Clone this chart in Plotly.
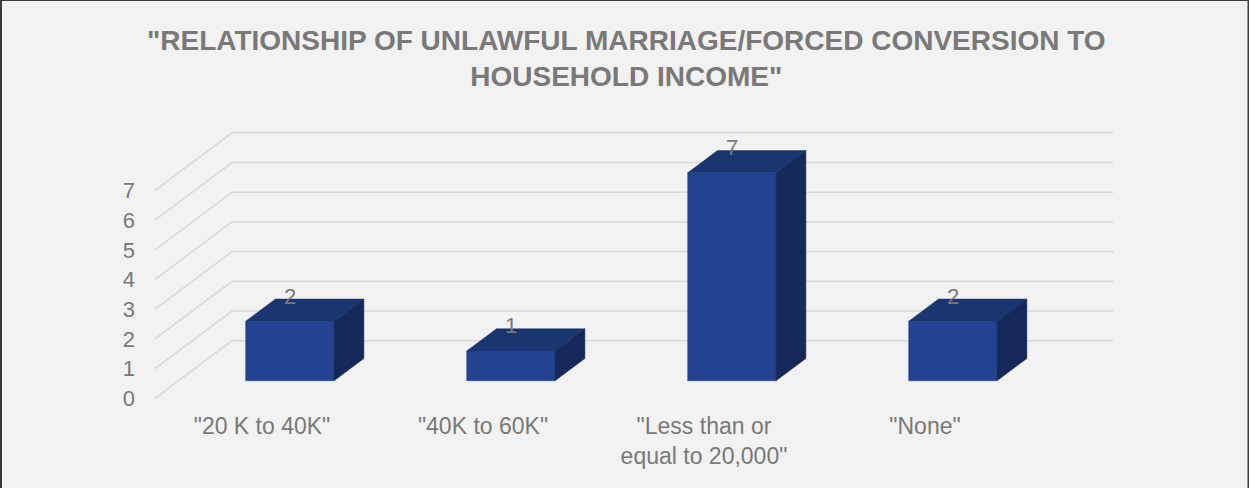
import plotly.graph_objects as go

# Chart data
categories = ['"20 K to 40K"', '"40K to 60K"', '"Less than or<br>equal to 20,000"', '"None"']
values = [2, 1, 7, 2]
y_ticks = [0, 1, 2, 3, 4, 5, 6, 7]
title_text = '"RELATIONSHIP OF UNLAWFUL MARRIAGE/FORCED CONVERSION TO<br>HOUSEHOLD INCOME"'

# Oblique projection used for the pseudo-3D look:
# a point (category c, value v, depth d in [0, 1]) is drawn at
# X = c + d * DEPTH_X, Y = v + d * DEPTH_Y
DEPTH_X = 0.3484
DEPTH_Y = 1.939
BAR_FRONT = 0.305
BAR_BACK = 0.692
HALF_W = 0.2
FLOOR_LEFT = -0.504
FLOOR_RIGHT = 3.483

FRONT_COLOR = "#234391"
TOP_COLOR = "#1b3570"
SIDE_COLOR = "#14295a"
GRID_COLOR = "#d9d9d9"
TEXT_COLOR = "#7a7878"
FONT = "Liberation Sans, Arial, sans-serif"


def proj(c, v, d):
    return c + d * DEPTH_X, v + d * DEPTH_Y


def polygon(points, color):
    return go.Scatter(
        x=[p[0] for p in points] + [points[0][0]],
        y=[p[1] for p in points] + [points[0][1]],
        mode="lines", fill="toself", fillcolor=color,
        line=dict(color=color, width=0.5), hoverinfo="skip", showlegend=False)


fig = go.Figure()

# Walls: one bent gridline per value level (left side wall + back wall)
for k in y_ticks:
    pts = [proj(FLOOR_LEFT, k, 0), proj(FLOOR_LEFT, k, 1), proj(FLOOR_RIGHT, k, 1)]
    fig.add_trace(go.Scatter(
        x=[p[0] for p in pts], y=[p[1] for p in pts], mode="lines",
        line=dict(color=GRID_COLOR, width=1.6), hoverinfo="skip", showlegend=False))

xs = list(range(len(categories)))

# Bars as boxes: front, top and right-hand side faces
for c, v in zip(xs, values):
    front = [proj(c - HALF_W, 0, BAR_FRONT), proj(c + HALF_W, 0, BAR_FRONT),
             proj(c + HALF_W, v, BAR_FRONT), proj(c - HALF_W, v, BAR_FRONT)]
    top = [proj(c - HALF_W, v, BAR_FRONT), proj(c + HALF_W, v, BAR_FRONT),
           proj(c + HALF_W, v, BAR_BACK), proj(c - HALF_W, v, BAR_BACK)]
    side = [proj(c + HALF_W, 0, BAR_FRONT), proj(c + HALF_W, v, BAR_FRONT),
            proj(c + HALF_W, v, BAR_BACK), proj(c + HALF_W, 0, BAR_BACK)]
    fig.add_trace(polygon(front, FRONT_COLOR))
    fig.add_trace(polygon(top, TOP_COLOR))
    fig.add_trace(polygon(side, SIDE_COLOR))

# Value labels on top of the bars
for c, v in zip(xs, values):
    px, py = proj(c, v, BAR_BACK)
    fig.add_annotation(x=c + BAR_FRONT * DEPTH_X, y=py, text=str(v), showarrow=False,
                       yshift=3, font=dict(family=FONT, size=22, color=TEXT_COLOR))

# Pixel-aligned axis ranges (figure is 1249 x 488)
X_ORIGIN_PX, X_STEP_PX = 266.4, 221.0
Y_ORIGIN_PX, Y_STEP_PX = 398.3, 29.7
W, H = 1249, 488

fig.add_annotation(text=title_text, xref="paper", yref="paper", x=0.5015, y=1 - 58.5 / H,
                   xanchor="center", yanchor="middle", showarrow=False,
                   font=dict(family=FONT, size=28, color=TEXT_COLOR, weight="bold"))

fig.update_layout(
    width=W, height=H,
    margin=dict(l=0, r=0, t=0, b=0),
    paper_bgcolor="#f2f2f2", plot_bgcolor="#f2f2f2",
    font=dict(family=FONT, color=TEXT_COLOR),
    xaxis=dict(range=[-X_ORIGIN_PX / X_STEP_PX, (W - X_ORIGIN_PX) / X_STEP_PX],
               domain=[0, 1], showgrid=False, zeroline=False, showline=False,
               tickvals=[c - 0.02 for c in xs], ticktext=categories, ticks="",
               anchor="free", position=(H - 410) / H,
               tickfont=dict(family=FONT, size=23, color=TEXT_COLOR), fixedrange=True),
    yaxis=dict(range=[(Y_ORIGIN_PX - H) / Y_STEP_PX, Y_ORIGIN_PX / Y_STEP_PX],
               domain=[0, 1], showgrid=False, zeroline=False, showline=False,
               tickvals=y_ticks, ticktext=[str(t) for t in y_ticks], ticks="",
               anchor="free", position=135 / W,
               tickfont=dict(family=FONT, size=22, color=TEXT_COLOR), fixedrange=True),
)

# Dark frame along the top and sides
for x0, y0, x1, y1, w in ((0, 1, 1, 1, 2), (0, 0, 0, 1, 4), (1, 0, 1, 1, 3)):
    fig.add_shape(type="line", xref="paper", yref="paper", x0=x0, y0=y0, x1=x1, y1=y1,
                  line=dict(color="#3c3c3c", width=w))

fig.write_html("out.html")
